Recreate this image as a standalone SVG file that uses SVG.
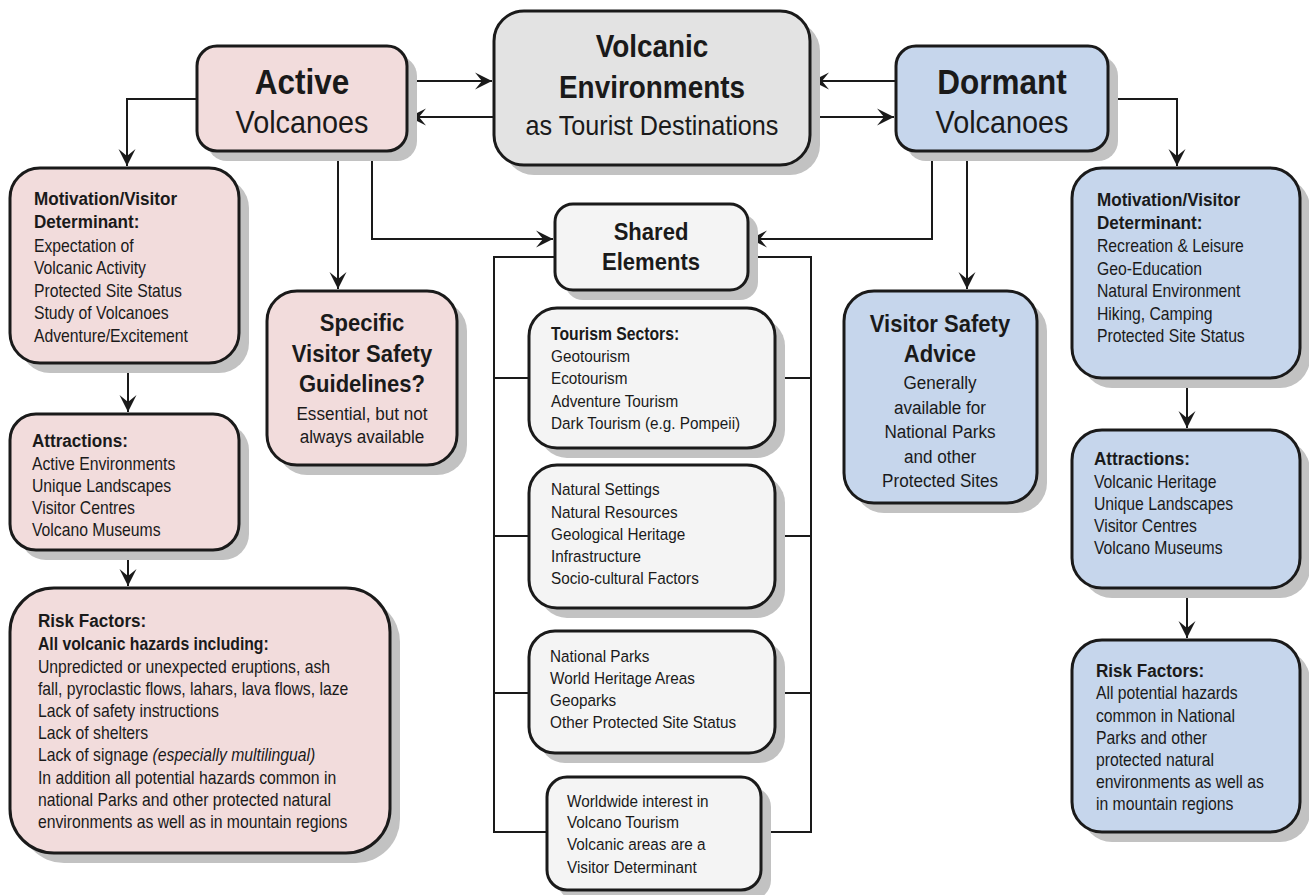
<svg xmlns="http://www.w3.org/2000/svg" width="1309" height="895" viewBox="0 0 1309 895">
<defs>
<style>
.sh{fill:#c2c2c2}
.bx{stroke:#1a1a1a;stroke-width:3}
.pk{fill:#f2dcdc}
.bl{fill:#c6d6ec}
.gy{fill:#e3e3e3}
.lt{fill:#f4f4f4}
.cn{fill:none;stroke:#1a1a1a;stroke-width:2}
text{font-family:"Liberation Sans",Arial,sans-serif;fill:#1a1a1a}
.b{font-weight:bold}
.t35{font-size:35px}
.t32{font-size:32px}
.t31{font-size:31px}
.t28{font-size:28px}
.t24{font-size:24.5px}
.t19{font-size:19px}
.t175{font-size:17.5px}
.t17{font-size:17px}
.m{text-anchor:middle}
</style>
<marker id="ah" viewBox="-17 -9 18 18" refX="0" refY="0" markerWidth="18" markerHeight="18" markerUnits="userSpaceOnUse" orient="auto">
<path d="M0,0 L-17,-8.5 L-10,0 L-17,8.5 Z" fill="#1a1a1a"/>
</marker>
</defs>

<g id="connectors">
<path class="cn" d="M407,81 H492" marker-end="url(#ah)"/>
<path class="cn" d="M494,117 H409" marker-end="url(#ah)"/>
<path class="cn" d="M896,81 H812" marker-end="url(#ah)"/>
<path class="cn" d="M810,117 H894" marker-end="url(#ah)"/>
<path class="cn" d="M197,99 H127 V166" marker-end="url(#ah)"/>
<path class="cn" d="M128,363 V412" marker-end="url(#ah)"/>
<path class="cn" d="M128,550 V586" marker-end="url(#ah)"/>
<path class="cn" d="M338,151 V289" marker-end="url(#ah)"/>
<path class="cn" d="M372,151 V239 H553" marker-end="url(#ah)"/>
<path class="cn" d="M932,151 V239 H750" marker-end="url(#ah)"/>
<path class="cn" d="M967,151 V289" marker-end="url(#ah)"/>
<path class="cn" d="M1108,99 H1177 V166" marker-end="url(#ah)"/>
<path class="cn" d="M1187,378 V428" marker-end="url(#ah)"/>
<path class="cn" d="M1187,588 V638" marker-end="url(#ah)"/>
<path class="cn" d="M555,257 H494 V832 H547"/>
<path class="cn" d="M748,257 H811 V832 H761"/>
<path class="cn" d="M494,378 H529 M775,378 H811 M494,536 H529 M775,536 H811 M494,693 H529 M775,693 H811"/>
</g>

<g id="central">
<rect class="sh" x="504" y="21" width="316" height="154" rx="30"/>
<rect class="bx gy" x="494" y="11" width="316" height="154" rx="30"/>
<g transform="translate(652 0) scale(0.9 1) translate(-652 0)">
<text class="b t31 m" x="652" y="57">Volcanic</text>
<text class="b t31 m" x="652" y="98">Environments</text>
<text class="t28 m" x="652" y="135">as Tourist Destinations</text>
</g>
</g>

<g id="active">
<rect class="sh" x="207" y="56" width="210" height="105" rx="20"/>
<rect class="bx pk" x="197" y="46" width="210" height="105" rx="20"/>
<g transform="translate(302 0) scale(0.9 1) translate(-302 0)">
<text class="b t35 m" x="302" y="94">Active</text>
<text class="t32 m" x="302" y="133">Volcanoes</text>
</g>
</g>

<g id="dormant">
<rect class="sh" x="906" y="56" width="212" height="105" rx="20"/>
<rect class="bx bl" x="896" y="46" width="212" height="105" rx="20"/>
<g transform="translate(1002 0) scale(0.9 1) translate(-1002 0)">
<text class="b t35 m" x="1002" y="94">Dormant</text>
<text class="t32 m" x="1002" y="133">Volcanoes</text>
</g>
</g>

<g id="motivation-active">
<rect class="sh" x="20" y="178" width="229" height="195" rx="30"/>
<rect class="bx pk" x="10" y="168" width="229" height="195" rx="30"/>
<g transform="translate(34 0) scale(0.9 1) translate(-34 0)">
<text class="b t19" x="34" y="205">Motivation/Visitor</text>
<text class="b t19" x="34" y="228">Determinant:</text>
<text class="t175" x="34" y="252">Expectation of</text>
<text class="t175" x="34" y="274">Volcanic Activity</text>
<text class="t175" x="34" y="297">Protected Site Status</text>
<text class="t175" x="34" y="319">Study of Volcanoes</text>
<text class="t175" x="34" y="342">Adventure/Excitement</text>
</g>
</g>

<g id="attractions-active">
<rect class="sh" x="20" y="424" width="229" height="136" rx="26"/>
<rect class="bx pk" x="10" y="414" width="229" height="136" rx="26"/>
<g transform="translate(32 0) scale(0.9 1) translate(-32 0)">
<text class="b t19" x="32" y="447">Attractions:</text>
<text class="t175" x="32" y="470">Active Environments</text>
<text class="t175" x="32" y="492">Unique Landscapes</text>
<text class="t175" x="32" y="514">Visitor Centres</text>
<text class="t175" x="32" y="536">Volcano Museums</text>
</g>
</g>

<g id="risk-active">
<rect class="sh" x="20" y="598" width="380" height="265" rx="44"/>
<rect class="bx pk" x="10" y="588" width="380" height="265" rx="44"/>
<g transform="translate(38 0) scale(0.9 1) translate(-38 0)">
<text class="b t19" x="38" y="627">Risk Factors:</text>
<text class="b t175" x="38" y="650">All volcanic hazards including:</text>
<text class="t175" x="38" y="673">Unpredicted or unexpected eruptions, ash</text>
<text class="t175" x="38" y="695">fall, pyroclastic flows, lahars, lava flows, laze</text>
<text class="t175" x="38" y="717">Lack of safety instructions</text>
<text class="t175" x="38" y="739">Lack of shelters</text>
<text class="t175" x="38" y="761">Lack of signage <tspan font-style="italic">(especially multilingual)</tspan></text>
<text class="t175" x="38" y="784">In addition all potential hazards common in</text>
<text class="t175" x="38" y="806">national Parks and other protected natural</text>
<text class="t175" x="38" y="828">environments as well as in mountain regions</text>
</g>
</g>

<g id="specific-guidelines">
<rect class="sh" x="277" y="301" width="190" height="174" rx="30"/>
<rect class="bx pk" x="267" y="291" width="190" height="174" rx="30"/>
<g transform="translate(362 0) scale(0.9 1) translate(-362 0)">
<text class="b t24 m" x="362" y="331">Specific</text>
<text class="b t24 m" x="362" y="362">Visitor Safety</text>
<text class="b t24 m" x="362" y="392">Guidelines?</text>
<text class="t19 m" x="362" y="420">Essential, but not</text>
<text class="t19 m" x="362" y="443">always available</text>
</g>
</g>

<g id="shared-elements">
<rect class="sh" x="565" y="214" width="193" height="86" rx="18"/>
<rect class="bx lt" x="555" y="204" width="193" height="86" rx="18"/>
<g transform="translate(651 0) scale(0.9 1) translate(-651 0)">
<text class="b t24 m" x="651" y="240">Shared</text>
<text class="b t24 m" x="651" y="270">Elements</text>
</g>
</g>

<g id="tourism-sectors">
<rect class="sh" x="539" y="318" width="246" height="140" rx="28"/>
<rect class="bx lt" x="529" y="308" width="246" height="140" rx="28"/>
<g transform="translate(551 0) scale(0.9 1) translate(-551 0)">
<text class="b t175" x="551" y="340">Tourism Sectors:</text>
<text class="t17" x="551" y="362">Geotourism</text>
<text class="t17" x="551" y="384">Ecotourism</text>
<text class="t17" x="551" y="407">Adventure Tourism</text>
<text class="t17" x="551" y="429">Dark Tourism (e.g. Pompeii)</text>
</g>
</g>

<g id="natural-settings">
<rect class="sh" x="539" y="475" width="246" height="143" rx="28"/>
<rect class="bx lt" x="529" y="465" width="246" height="143" rx="28"/>
<g transform="translate(551 0) scale(0.9 1) translate(-551 0)">
<text class="t17" x="551" y="495">Natural Settings</text>
<text class="t17" x="551" y="518">Natural Resources</text>
<text class="t17" x="551" y="540">Geological Heritage</text>
<text class="t17" x="551" y="562">Infrastructure</text>
<text class="t17" x="551" y="584">Socio-cultural Factors</text>
</g>
</g>

<g id="national-parks">
<rect class="sh" x="539" y="641" width="246" height="122" rx="26"/>
<rect class="bx lt" x="529" y="631" width="246" height="122" rx="26"/>
<g transform="translate(550 0) scale(0.9 1) translate(-550 0)">
<text class="t17" x="550" y="662">National Parks</text>
<text class="t17" x="550" y="684">World Heritage Areas</text>
<text class="t17" x="550" y="706">Geoparks</text>
<text class="t17" x="550" y="728">Other Protected Site Status</text>
</g>
</g>

<g id="worldwide-interest">
<rect class="sh" x="557" y="787" width="214" height="113" rx="20"/>
<rect class="bx lt" x="547" y="777" width="214" height="113" rx="20"/>
<g transform="translate(567 0) scale(0.9 1) translate(-567 0)">
<text class="t17" x="567" y="807">Worldwide interest in</text>
<text class="t17" x="567" y="828">Volcano Tourism</text>
<text class="t17" x="567" y="850">Volcanic areas are a</text>
<text class="t17" x="567" y="873">Visitor Determinant</text>
</g>
</g>

<g id="visitor-safety-advice">
<rect class="sh" x="854" y="301" width="193" height="212" rx="30"/>
<rect class="bx bl" x="844" y="291" width="193" height="212" rx="30"/>
<g transform="translate(940 0) scale(0.9 1) translate(-940 0)">
<text class="b t24 m" x="940" y="332">Visitor Safety</text>
<text class="b t24 m" x="940" y="362">Advice</text>
<text class="t19 m" x="940" y="389">Generally</text>
<text class="t19 m" x="940" y="414">available for</text>
<text class="t19 m" x="940" y="438">National Parks</text>
<text class="t19 m" x="940" y="463">and other</text>
<text class="t19 m" x="940" y="487">Protected Sites</text>
</g>
</g>

<g id="motivation-dormant">
<rect class="sh" x="1082" y="178" width="228" height="210" rx="30"/>
<rect class="bx bl" x="1072" y="168" width="228" height="210" rx="30"/>
<g transform="translate(1097 0) scale(0.9 1) translate(-1097 0)">
<text class="b t19" x="1097" y="206">Motivation/Visitor</text>
<text class="b t19" x="1097" y="229">Determinant:</text>
<text class="t175" x="1097" y="252">Recreation &amp; Leisure</text>
<text class="t175" x="1097" y="275">Geo-Education</text>
<text class="t175" x="1097" y="297">Natural Environment</text>
<text class="t175" x="1097" y="320">Hiking, Camping</text>
<text class="t175" x="1097" y="342">Protected Site Status</text>
</g>
</g>

<g id="attractions-dormant">
<rect class="sh" x="1082" y="440" width="228" height="158" rx="30"/>
<rect class="bx bl" x="1072" y="430" width="228" height="158" rx="30"/>
<g transform="translate(1094 0) scale(0.9 1) translate(-1094 0)">
<text class="b t19" x="1094" y="465">Attractions:</text>
<text class="t175" x="1094" y="488">Volcanic Heritage</text>
<text class="t175" x="1094" y="510">Unique Landscapes</text>
<text class="t175" x="1094" y="532">Visitor Centres</text>
<text class="t175" x="1094" y="554">Volcano Museums</text>
</g>
</g>

<g id="risk-dormant">
<rect class="sh" x="1082" y="650" width="228" height="192" rx="30"/>
<rect class="bx bl" x="1072" y="640" width="228" height="192" rx="30"/>
<g transform="translate(1096 0) scale(0.9 1) translate(-1096 0)">
<text class="b t19" x="1096" y="677">Risk Factors:</text>
<text class="t175" x="1096" y="699">All potential hazards</text>
<text class="t175" x="1096" y="722">common in National</text>
<text class="t175" x="1096" y="744">Parks and other</text>
<text class="t175" x="1096" y="766">protected natural</text>
<text class="t175" x="1096" y="788">environments as well as</text>
<text class="t175" x="1096" y="810">in mountain regions</text>
</g>
</g>
</svg>
